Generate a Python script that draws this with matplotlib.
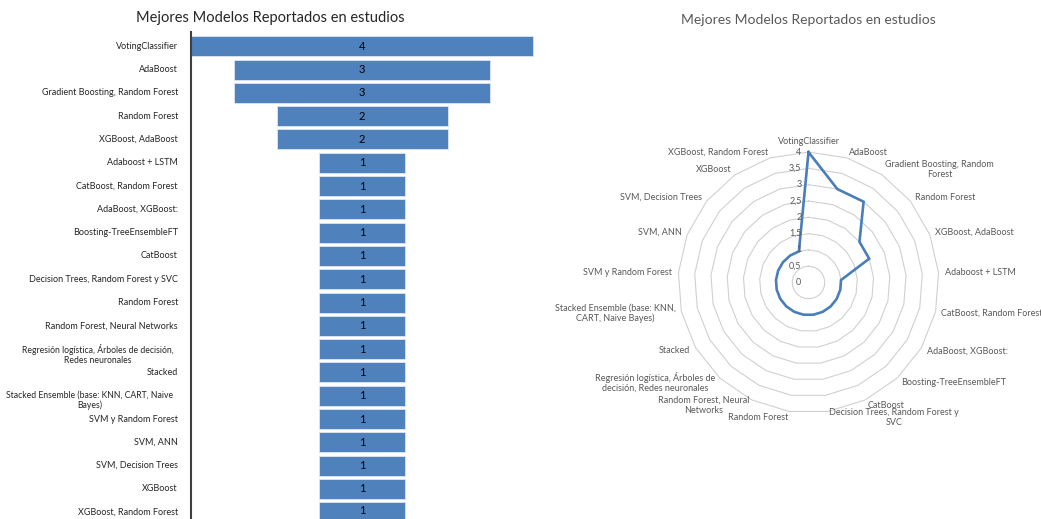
import numpy as np
import matplotlib
matplotlib.use("Agg")
import matplotlib.pyplot as plt

plt.rcParams['font.family'] = ['Lato', 'DejaVu Sans']

titulo = "Mejores Modelos Reportados en estudios"

modelos = [
    "VotingClassifier",
    "AdaBoost",
    "Gradient Boosting, Random Forest",
    "Random Forest",
    "XGBoost, AdaBoost",
    "Adaboost + LSTM",
    "CatBoost, Random Forest",
    "AdaBoost, XGBoost:",
    "Boosting-TreeEnsembleFT",
    "CatBoost",
    "Decision Trees, Random Forest y SVC",
    "Random Forest",
    "Random Forest, Neural Networks",
    "Regresión logística, Árboles de decisión,\nRedes neuronales",
    "Stacked",
    "Stacked Ensemble (base: KNN, CART, Naive\nBayes)",
    "SVM y Random Forest",
    "SVM, ANN",
    "SVM, Decision Trees",
    "XGBoost",
    "XGBoost, Random Forest",
]

# mismas categorias, con los saltos de linea del grafico radial
modelos_radar = [
    "VotingClassifier",
    "AdaBoost",
    "Gradient Boosting, Random\nForest",
    "Random Forest",
    "XGBoost, AdaBoost",
    "Adaboost + LSTM",
    "CatBoost, Random Forest",
    "AdaBoost, XGBoost:",
    "Boosting-TreeEnsembleFT",
    "CatBoost",
    "Decision Trees, Random Forest y\nSVC",
    "Random Forest",
    "Random Forest, Neural\nNetworks",
    "Regresión logística, Árboles de\ndecisión, Redes neuronales",
    "Stacked",
    "Stacked Ensemble (base: KNN,\nCART, Naive Bayes)",
    "SVM y Random Forest",
    "SVM, ANN",
    "SVM, Decision Trees",
    "XGBoost",
    "XGBoost, Random Forest",
]

conteo = [4, 3, 3, 2, 2, 1, 1, 1, 1, 1, 1, 1, 1, 1, 1, 1, 1, 1, 1, 1, 1]

niveles = [0, 0.5, 1, 1.5, 2, 2.5, 3, 3.5, 4]

W, H = 1041, 519
fig = plt.figure(figsize=(W / 100, H / 100), dpi=100)

# ---- embudo (barras centradas) ----
ax = fig.add_axes([191 / W, 0, 354 / W, (H - 32.3) / H])
pos = np.arange(len(modelos))
maximo = max(conteo)
izq = [(maximo - v) / 2 for v in conteo]
barras = ax.barh(pos, conteo, left=izq, height=0.86, color="#4F81BD",
                 edgecolor="#DCE6F2", linewidth=0.6)
ax.bar_label(barras, labels=[str(v) for v in conteo], label_type="center",
             fontsize=8, color="black")
ax.set_xlim(0, 4.14)
ax.set_ylim(20.29, -0.6)
for lado in ["top", "right", "bottom"]:
    ax.spines[lado].set_visible(False)
ax.spines["left"].set_color("#404040")
ax.spines["left"].set_linewidth(1.5)
ax.tick_params(left=False, bottom=False, labelleft=False, labelbottom=False)

trans = ax.get_yaxis_transform()
for p, nombre in zip(pos, modelos):
    if "\n" in nombre:
        ax.text(-0.05, p - 0.22, nombre, transform=trans, ha="right", va="top",
                multialignment="center", fontsize=6.2, color="#262626",
                linespacing=1.15)
    else:
        ax.text(-0.037, p, nombre, transform=trans, ha="right", va="center",
                fontsize=6.5, color="#262626")

fig.text(270 / W, 1 - 18 / H, titulo, ha="center", va="center",
         fontsize=10.5, color="#262626")

# ---- grafico radial ----
cx, cy, rad = 808.5, 282.5, 130.4
axr = fig.add_axes([(cx - rad) / W, (H - cy - rad) / H, 2 * rad / W, 2 * rad / H],
                   projection="polar")
axr.set_theta_zero_location("N")
axr.set_theta_direction(-1)
axr.set_ylim(0, 4)
axr.axis("off")

n = len(conteo)
ang = 2 * np.pi * np.arange(n) / n
ang_c = np.append(ang, ang[0])

for nivel in niveles[1:]:
    axr.plot(ang_c, [nivel] * (n + 1), color="#D0D0D0", lw=0.8, clip_on=False)

axr.plot(ang_c, conteo + [conteo[0]], color="#4A7EBB", lw=1.9, clip_on=False,
         solid_joinstyle="miter")

for nivel in niveles:
    etiqueta = f"{nivel:g}".replace(".", ",")
    axr.annotate(etiqueta, xy=(0, nivel), xytext=(-7, 0), textcoords="offset pixels",
                 ha="right", va="center", fontsize=6.5, color="#595959",
                 annotation_clip=False)

for th, nombre in zip(ang, modelos_radar):
    s, c = np.sin(th), np.cos(th)
    ha = "left" if s > 0.05 else ("right" if s < -0.05 else "center")
    va = "bottom" if (abs(s) < 0.05 and c > 0) else "center"
    axr.annotate(nombre, xy=(th, 4), xytext=(6 * s, 6 * c), textcoords="offset pixels",
                 ha=ha, va=va, multialignment="center", fontsize=6.5,
                 color="#595959", linespacing=1.1, annotation_clip=False)

fig.text(cx / W, 1 - 20 / H, titulo, ha="center", va="center",
         fontsize=10, color="#595959")

fig.savefig("out.png", dpi=100)
